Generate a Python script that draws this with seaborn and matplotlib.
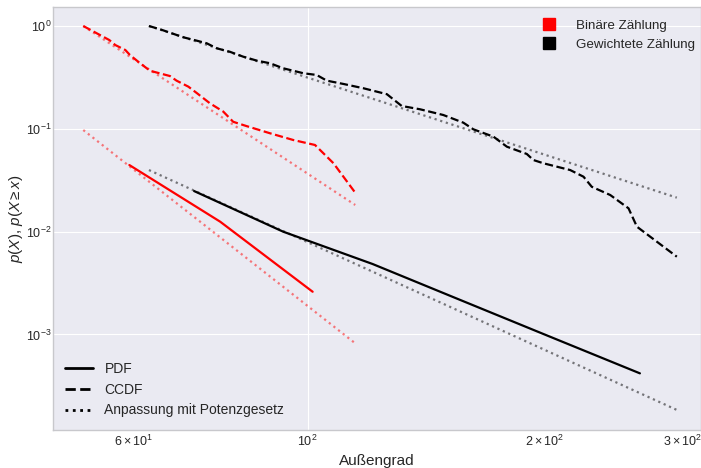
import numpy as np
import pandas as pd
import matplotlib
matplotlib.use("Agg")
import matplotlib.pyplot as plt
import seaborn as sns
from matplotlib.lines import Line2D

# =============================
# Daten
# =============================

# Binäre Zählung
bin_ccdf_x = [51.8, 54.7, 55.9, 56.9, 58.6, 59.4, 61.2, 63.0, 66.8, 68.1, 70.5,
              72.3, 75.1, 78.1, 80.4, 83.7, 89.6, 95.9, 102.2, 107.9, 115.0]
bin_ccdf_y = [1.0, 0.799, 0.731, 0.653, 0.584, 0.522, 0.434, 0.367, 0.326, 0.294, 0.257,
              0.222, 0.177, 0.147, 0.117, 0.106, 0.0904, 0.0778, 0.0696, 0.0462, 0.0239]
bin_ccdf_fit_x = [51.8, 115.0]
bin_ccdf_fit_y = [1.0, 0.01815]

bin_pdf_x = [59.3, 77.4, 101.5]
bin_pdf_y = [0.0444, 0.01248, 0.0026]
bin_pdf_fit_x = [51.8, 115.0]
bin_pdf_fit_y = [0.0973, 0.000819]

# Gewichtete Zählung
gew_ccdf_x = [62.8, 64.9, 66.8, 69.5, 72.3, 74.4, 76.6, 79.6, 82.8, 86.2, 89.6, 93.1,
              98.8, 102.7, 105.8, 111.1, 117.8, 126.2, 131.8, 139.1, 148.9, 157.9,
              162.6, 172.5, 179.4, 190.2, 193.9, 199.7, 216.0, 224.6, 230.1, 242.9,
              256.3, 262.7, 284.0, 295.3]
gew_ccdf_y = [1.0, 0.929, 0.861, 0.776, 0.719, 0.679, 0.607, 0.562, 0.503, 0.460, 0.434,
              0.388, 0.347, 0.334, 0.294, 0.273, 0.248, 0.217, 0.1667, 0.1548, 0.1362,
              0.1147, 0.0989, 0.0838, 0.0670, 0.0569, 0.0497, 0.0462, 0.0397, 0.0342,
              0.0273, 0.0227, 0.01685, 0.01116, 0.00713, 0.00570]
gew_ccdf_fit_x = [62.8, 295.3]
gew_ccdf_fit_y = [1.0, 0.0214]

gew_pdf_x = [71.7, 93.1, 121.0, 157.0, 204.0, 265.0]
gew_pdf_y = [0.0248, 0.00998, 0.00484, 0.00214, 0.000944, 0.000418]
gew_pdf_fit_x = [62.8, 296.8]
gew_pdf_fit_y = [0.0397, 0.000181]

# =============================
# Plot
# =============================

sns.set_style("darkgrid")
plt.rcParams['font.family'] = ['Liberation Sans', 'DejaVu Sans']
plt.rcParams['mathtext.fontset'] = 'custom'
plt.rcParams['mathtext.rm'] = 'Liberation Sans'
plt.rcParams['mathtext.it'] = 'Liberation Sans:italic'

fig = plt.figure(figsize=(7.01, 4.68), dpi=100)
ax = fig.add_axes([0.0756, 0.0812, 0.9244, 0.9038])

serien = [
    (bin_ccdf_x, bin_ccdf_y, 'red', '--', 1.0),
    (bin_ccdf_fit_x, bin_ccdf_fit_y, 'red', ':', 0.5),
    (bin_pdf_x, bin_pdf_y, 'red', '-', 1.0),
    (bin_pdf_fit_x, bin_pdf_fit_y, 'red', ':', 0.5),
    (gew_ccdf_x, gew_ccdf_y, 'black', '--', 1.0),
    (gew_ccdf_fit_x, gew_ccdf_fit_y, 'black', ':', 0.5),
    (gew_pdf_x, gew_pdf_y, 'black', '-', 1.0),
    (gew_pdf_fit_x, gew_pdf_fit_y, 'black', ':', 0.5),
]
for xs, ys, farbe, stil, alpha in serien:
    df = pd.DataFrame({'x': xs, 'y': ys})
    sns.lineplot(data=df, x='x', y='y', ax=ax, color=farbe, linestyle=stil,
                 alpha=alpha, linewidth=1.6, estimator=None)

ax.set_xscale('log')
ax.set_yscale('log')
ax.set_xlim(47.4, 317)
ax.set_ylim(1.175e-4, 1.53)
ax.set_xlabel('Außengrad', fontsize=11, labelpad=3)
ax.set_ylabel(r'$p(X)$, $p(X \geq x)$', fontsize=11, labelpad=1)
ax.tick_params(axis='x', which='both', labelsize=9, length=0, pad=3)
ax.tick_params(axis='y', which='both', labelsize=9, length=0, pad=1)

for spine in ax.spines.values():
    spine.set_visible(True)
    spine.set_color('#c8c8cc')
    spine.set_linewidth(1)

# Legende Farben
farb_handles = [
    Line2D([], [], marker='s', color='red', linestyle='none', markersize=9),
    Line2D([], [], marker='s', color='black', linestyle='none', markersize=9),
]
leg1 = ax.legend(farb_handles, ['Binäre Zählung', 'Gewichtete Zählung'],
                 loc='upper right', bbox_to_anchor=(1.0046, 0.9929),
                 fontsize=9.6, frameon=False, handletextpad=1.0, borderaxespad=0.3)
ax.add_artist(leg1)

# Legende Linienstile
stil_handles = [
    Line2D([], [], color='black', linestyle='-', linewidth=2),
    Line2D([], [], color='black', linestyle='--', linewidth=2),
    Line2D([], [], color='black', linestyle=':', linewidth=2),
]
ax.legend(stil_handles, ['PDF', 'CCDF', 'Anpassung mit Potenzgesetz'],
          loc='lower left', fontsize=10, frameon=False)

fig.savefig('out.png', dpi=100)
